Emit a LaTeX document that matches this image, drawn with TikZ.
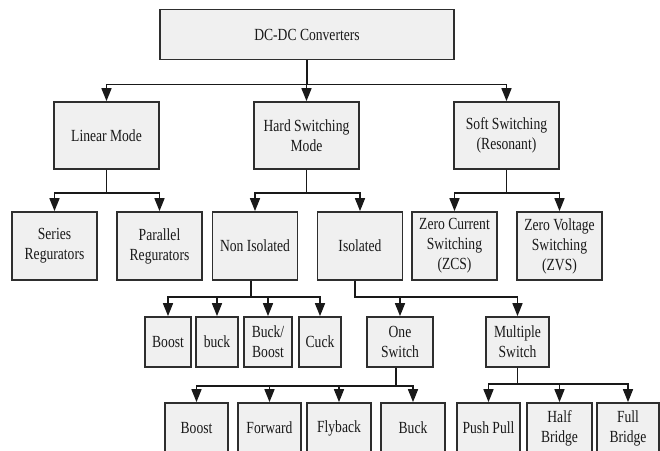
\documentclass[tikz,border=0pt]{standalone}
\usepackage{fontspec}
\setmainfont[FakeStretch=0.8]{Liberation Serif}
\usetikzlibrary{arrows.meta}
\definecolor{boxfill}{HTML}{F0F0F0}
\definecolor{boxline}{HTML}{2E2E2E}
\begin{document}
\begin{tikzpicture}[x=1pt, y=-1pt,
blk/.style={draw=boxline, fill=boxfill, line width=1.7pt, align=center, inner sep=0pt,
  text=black!90, font=\fontsize{17}{20}\selectfont},
lvl1/.style={blk, minimum width=105pt, minimum height=67pt},
lvl2/.style={blk, minimum width=85pt, minimum height=68pt},
lvl3/.style={blk, minimum height=50pt},
lvl4/.style={blk, minimum height=50pt},
arr/.style={-{Triangle[width=10pt,length=13pt]}, line width=1.5pt, black!90}]
\useasboundingbox (0,0) rectangle (660,450);
\clip (0,0) rectangle (660,450);
\node[blk, minimum width=294pt, minimum height=50pt] (dc) at (307,34.5) {DC-DC Converters};
\node[lvl1] (lin) at (106.5,135.5) {Linear Mode};
\node[lvl1] (hard) at (306.5,135.5) {Hard Switching\\Mode};
\node[lvl1] (soft) at (506.5,135.5) {Soft Switching\\(Resonant)};
\node[lvl2] (ser) at (54.5,246) {Series\\Regurators};
\node[lvl2] (par) at (159.5,246) {Parallel\\Regurators};
\node[lvl2] (non) at (255,246) {Non Isolated};
\node[lvl2] (iso) at (360,246) {Isolated};
\node[lvl2] (zcs) at (454.5,246) {Zero Current\\Switching\\(ZCS)};
\node[lvl2] (zvs) at (559.5,246) {Zero Voltage\\Switching\\(ZVS)};
\node[lvl3, minimum width=46pt] (boost) at (168,342) {Boost};
\node[lvl3, minimum width=42pt] (buck) at (217,342) {buck};
\node[lvl3, minimum width=48pt] (bb) at (268,342) {Buck/\\Boost};
\node[lvl3, minimum width=42pt] (cuck) at (320,342) {Cuck};
\node[lvl3, minimum width=66pt] (one) at (400,342) {One\\Switch};
\node[lvl3, minimum width=63pt] (mult) at (517.5,342) {Multiple\\Switch};
\node[lvl4, minimum width=63pt] (iboost) at (196.5,428) {Boost};
\node[lvl4, minimum width=63pt] (fwd) at (269.5,428) {Forward};
\node[lvl4, minimum width=64pt] (fly) at (339,428) {Flyback};
\node[lvl4, minimum width=64pt] (ibuck) at (413,428) {Buck};
\node[lvl4, minimum width=63pt] (pp) at (488.5,428) {Push Pull};
\node[lvl4, minimum width=65pt] (half) at (559.5,428) {Half\\Bridge};
\node[lvl4, minimum width=62pt] (full) at (628,428) {Full\\Bridge};
% connectors
\foreach \c in {lin,hard,soft} \draw[arr] (dc.south) -- ++(0,24) -| (\c.north);
\foreach \c in {ser,par} \draw[arr] (lin.south) -- ++(0,23) -| (\c.north);
\foreach \c in {non,iso} \draw[arr] (hard.south) -- ++(0,23) -| (\c.north);
\foreach \c in {zcs,zvs} \draw[arr] (soft.south) -- ++(0,23) -| (\c.north);
\foreach \c in {boost,buck,bb,cuck} \draw[arr] ([xshift=-4pt]non.south) -- ++(0,16) -| (\c.north);
\foreach \c in {one,mult} \draw[arr] ([xshift=-5pt]iso.south) -- ++(0,16) -| (\c.north);
\foreach \c in {iboost,fwd,fly,ibuck} \draw[arr] ([xshift=-4pt]one.south) -- ++(0,18) -| (\c.north);
\foreach \c in {pp,half,full} \draw[arr] (mult.south) -- ++(0,16) -| (\c.north);
\end{tikzpicture}
\end{document}
